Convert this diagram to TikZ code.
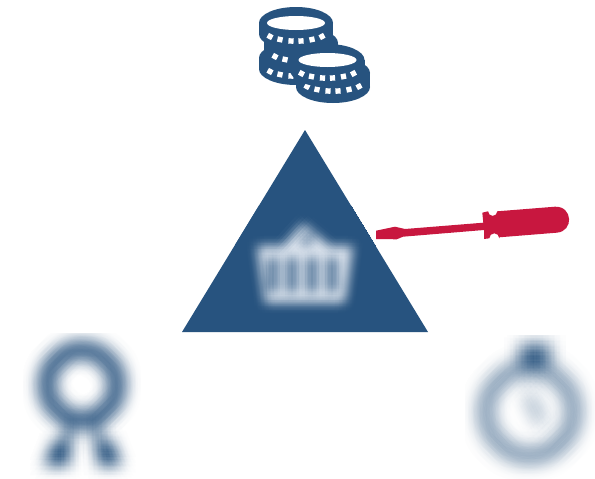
\documentclass[tikz,border=0pt]{standalone}
\definecolor{navy}{HTML}{27537F}
\definecolor{crim}{HTML}{C8173F}
\definecolor{pale}{HTML}{DCE4EE}
% blur by nested averaging of shifted copies (level: dx/dy in units of \softs)
\def\softA{1}\def\softB{0}
\newcommand\softrec[1]{%
 \ifnum#1=0
  \softleaf
 \else
  \ifcase#1\or\def\softA{.3}\def\softB{-.3}\or\def\softA{.5}\def\softB{-.5}\or\def\softA{.5}\def\softB{.5}\or\def\softA{0}\def\softB{.6}\or\def\softA{.6}\def\softB{0}\or\def\softA{0}\def\softB{1}\or\def\softA{1}\def\softB{0}\fi
  \begin{scope}[shift={(\softA*\softs,\softB*\softs)}]
   \softrec{\numexpr#1-1\relax}
  \end{scope}
  \ifcase#1\or\def\softA{.3}\def\softB{-.3}\or\def\softA{.5}\def\softB{-.5}\or\def\softA{.5}\def\softB{.5}\or\def\softA{0}\def\softB{.6}\or\def\softA{.6}\def\softB{0}\or\def\softA{0}\def\softB{1}\or\def\softA{1}\def\softB{0}\fi
  \begin{scope}[transparency group,opacity=.5]
   \begin{scope}[opacity=1,shift={(-\softA*\softs,-\softB*\softs)}]
    \softrec{\numexpr#1-1\relax}
   \end{scope}
  \end{scope}
 \fi
}
\newcommand\softdraw[6]{% x1,y1,x2,y2,bg,spread ; content in \softbody
 \begin{scope}
 \clip (#1,#2) rectangle (#3,#4);
 \def\softs{#6}%
 \def\softleaf{\fill[#5] (#1-40,#2-40) rectangle (#3+40,#4+40); \softbody}%
 \softrec{7}
 \end{scope}
}
\newcommand\coin[3]{% cx, cy, bottom-centre offset
 \fill[navy] (#1,#2) ellipse[x radius=37,y radius=16];
 \fill[navy] (#1,#2+#3) ellipse[x radius=37,y radius=16];
 \fill[navy] (#1-37,#2) rectangle (#1+37,#2+#3);
 \foreach \mx/\my/\ma in {-26/13.5/-28,-16/16.5/-12,-5/18/-4,5/18/4,16/16.5/12,26/13.5/28}{
  \fill[white,shift={(#1+\mx,#2+\my)},rotate=\ma] (-2.6,-2.7) rectangle (2.6,2.7);
 }
}
\begin{document}
\begin{tikzpicture}[x=1pt,y=-1pt]
\useasboundingbox (0,0) rectangle (595,479);
\fill[white] (0,0) rectangle (595,479);
% coins
\coin{296}{58}{11}
\coin{301}{43}{11}
\coin{296}{23}{11}
\fill[white] (296,23) ellipse[x radius=29,y radius=7];
\coin{333}{73}{14}
\coin{327.5}{60}{11}
\fill[white] (327.5,60) ellipse[x radius=29,y radius=7];
% triangle
\fill[navy] (305,130) -- (428,332) -- (182,332) -- cycle;
% screwdriver
\fill[crim] (376,230.7) -- (376,239) -- (396.7,239.3) -- (403,236.7) -- (484,230) -- (484,239) -- (489.3,238.3)
 arc[start angle=180,end angle=360,radius=5] -- (499.3,237.3) -- (556.7,232.7)
 .. controls (574,231.5) and (573,206) .. (555,206.7) -- (497.3,211.3)
 arc[start angle=0,end angle=180,radius=4.6] -- (482.3,212.7) -- (483.3,222.7) -- (405,229) -- (395,226.7) -- cycle;
% basket
\begin{scope}
\clip (305,130) -- (428,332) -- (182,332) -- cycle;
\def\softbody{
 \fill[pale,even odd rule] (257,246) -- (283,246) -- (303,224) -- (330,246) -- (353,246) -- (345,303) -- (265,303) -- cycle
   (307,240) circle[radius=5]
   (269,258) rectangle (277,292) (288,258) rectangle (296,292) (308,258) rectangle (316,292) (328,258) rectangle (336,292);
}
\softdraw{235}{205}{375}{325}{navy}{3.6}
\end{scope}
% medal
\def\softbody{
 \fill[navy,opacity=.85,even odd rule] (82,385) circle[radius=45] (82,385) circle[radius=25];
 \fill[navy,opacity=.7] (64,420) rectangle (74,445);
 \fill[navy,opacity=.7] (92,420) rectangle (102,445);
 \fill[navy] (54,440) -- (70,440) -- (70,466) -- (44,466) -- cycle;
 \fill[navy] (96,440) -- (112,440) -- (122,466) -- (98,466) -- cycle;
}
\softdraw{20}{333}{145}{479}{white}{4.8}
% timer
\def\softbody{
 \fill[navy,even odd rule,opacity=0.62] (530,412) circle[radius=52] (530,412) circle[radius=36];
 \fill[navy] (520,345) rectangle (550,364);
 \fill[navy!85] (528,366) rectangle (536,378);
 \draw[navy,line width=7,opacity=.65] (528,394) -- (542,424);
}
\softdraw{465}{335}{595}{479}{white}{5.5}
\end{tikzpicture}
\end{document}
